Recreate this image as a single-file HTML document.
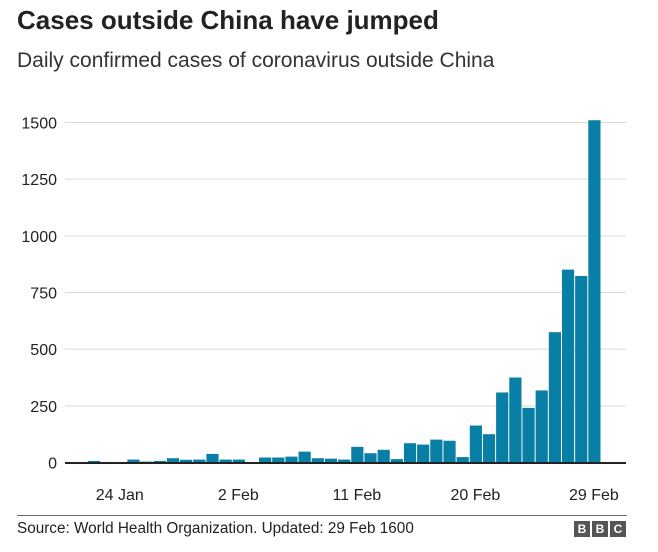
<!DOCTYPE html>
<html><head><meta charset="utf-8"><style>
body{margin:0;background:#fff;font-family:"Liberation Sans",sans-serif;}
#wrap{position:relative;width:658px;height:552px;overflow:hidden;}
.t{position:absolute;white-space:nowrap;color:#222;}
</style></head><body>
<div id="wrap">
<div class="t" style="left:17px;top:5px;font-size:26px;font-weight:bold;">Cases outside China have jumped</div>
<div class="t" style="left:17px;top:49px;font-size:21px;color:#333;">Daily confirmed cases of coronavirus outside China</div>
<svg id="chart" width="658" height="552" style="position:absolute;left:0;top:0"></svg>
<div style="position:absolute;left:17px;top:515px;width:610px;height:1px;background:#666"></div>
<div class="t" style="left:17px;top:520px;font-size:15.3px;">Source: World Health Organization. Updated: 29 Feb 1600</div>
<div style="position:absolute;left:574px;top:521px;display:flex;gap:2px">
<span style="width:16px;height:16px;background:#555;color:#fff;font:bold 12px 'Liberation Sans';text-align:center;line-height:16px">B</span>
<span style="width:16px;height:16px;background:#555;color:#fff;font:bold 12px 'Liberation Sans';text-align:center;line-height:16px">B</span>
<span style="width:16px;height:16px;background:#555;color:#fff;font:bold 12px 'Liberation Sans';text-align:center;line-height:16px">C</span>
</div>
</div>
<script>
const startDay = 20; // 20 Jan
const cases = [0,0,7,0,0,13,4,7,19,12,13,38,13,13,0,22,22,26,48,19,17,13,69,41,56,15,85,79,101,96,24,163,125,309,375,241,318,575,851,823,1510];
const yTicks = [0,250,500,750,1000,1250,1500];
const xTickLabels = ["24 Jan","2 Feb","11 Feb","20 Feb","29 Feb"];
const xTickIndex = [4,13,22,31,40];

const svg = document.getElementById('chart');
const NS = 'http://www.w3.org/2000/svg';
const x0 = 61, pitch = 13.17, bw = 12.2;
const yBase = 462.5, yTop = 122.5, yMax = 1500;
const yScale = v => yBase - (v / yMax) * (yBase - yTop);
const xScale = i => x0 + i * pitch;
function mk(tag, attrs){const e=document.createElementNS(NS,tag);for(const k in attrs)e.setAttribute(k,attrs[k]);svg.appendChild(e);return e;}

yTicks.forEach(v=>{
  if(v>0){const g=mk('line',{x1:65,x2:626,y1:yScale(v),y2:yScale(v),stroke:'#d9d9d9','stroke-width':1});
  
  }
  const t=mk('text',{x:57,y:yScale(v)+6,'text-anchor':'end','font-size':16,fill:'#222','font-family':'Liberation Sans'});
  t.textContent=v;
  
  
});
cases.forEach((v,i)=>{
  const r=mk('rect',{x:xScale(i)+0.5,y:yScale(v),width:bw,height:yBase-yScale(v),fill:'#0a7fa6'});
  
  
});
const ax=mk('line',{x1:65,x2:626,y1:yBase+0.5,y2:yBase+0.5,stroke:'#222','stroke-width':2});


xTickLabels.forEach((s,k)=>{
  const t=mk('text',{x:xScale(xTickIndex[k])+bw/2,y:500,'text-anchor':'middle','font-size':16,fill:'#222','font-family':'Liberation Sans'});
  t.textContent=s;
  
  
});
</script>
</body></html>
